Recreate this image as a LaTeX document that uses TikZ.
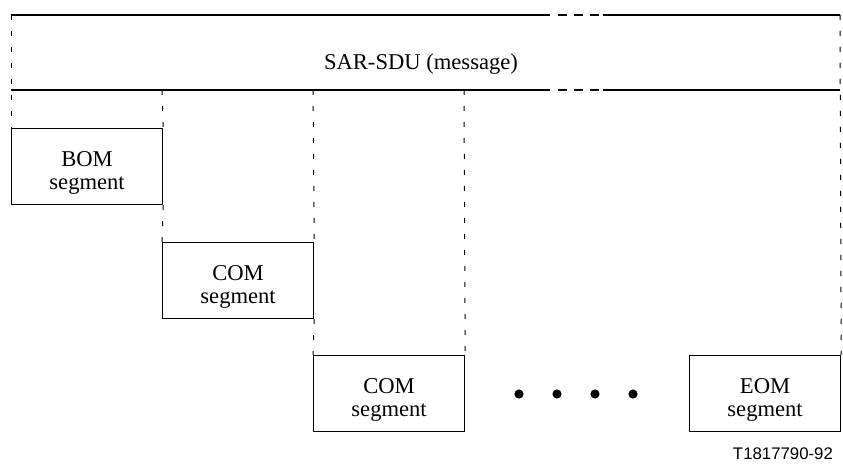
\documentclass[tikz,border=0pt]{standalone}
\usepackage{fontspec}
\setmainfont{Liberation Serif}
\newfontfamily\figfont{Liberation Sans}
\usepackage{tikz}
\usetikzlibrary{positioning}

\begin{document}
\begin{tikzpicture}[
        x=0.5pt, y=-0.5pt,
        font=\fontsize{11.3}{11.6}\selectfont,
        segbox/.style={draw, line width=0.6pt, rectangle, anchor=north west,
            minimum width=75.5pt, minimum height=38pt, inner sep=0pt},
        segtext/.style={align=center, inner sep=0pt},
        sduline/.style={line width=1pt},
        gapline/.style={line width=1pt, dash pattern=on 4.5pt off 3.5pt},
        guide/.style={line width=0.5pt, dash pattern=on 2.5pt off 5.5pt},
        bullet/.style={circle, fill, inner sep=0pt, minimum size=4.6pt}
      ]
      \useasboundingbox (0,0) rectangle (843,464);
      % message
      \coordinate (tl) at (11,15);
      \coordinate (tr) at (840,15);
      \coordinate (ml) at (11,90);
      \coordinate (mr) at (840,90);
      \node (sdu) at (421,64) {SAR-SDU (message)};
      \draw[sduline] (tl) -- (550,15) (603,15) -- (tr);
      \draw[sduline] (ml) -- (550,90) (603,90) -- (mr);
      \draw[gapline] (558,15) -- (603,15);
      \draw[gapline] (558,90) -- (603,90);
      % segments
      \node[segbox] (bom) at (11,128) {};
      \node[segbox] (com1) at (162,242) {};
      \node[segbox] (com2) at (313,355) {};
      \node[segbox] (eom) at (689,355) {};
      \node[segtext] (bomtext) at ([yshift=-3pt]bom.center) {BOM\\segment};
      \node[segtext] (com1text) at ([yshift=-3pt]com1.center) {COM\\segment};
      \node[segtext] (com2text) at ([yshift=-3pt]com2.center) {COM\\segment};
      \node[segtext] (eomtext) at ([yshift=-3pt]eom.center) {EOM\\segment};
      \node[bullet] (d1) at (519,394) {};
      \node[bullet] (d2) at (557,394) {};
      \node[bullet] (d3) at (595,394) {};
      \node[bullet] (d4) at (633,394) {};
      % guides
      \draw[guide] (tl) -- (bom.north west);
      \draw[guide] (162,90) -- (bom.north east);
      \draw[guide] (bom.south east) -- (com1.north west);
      \draw[guide] (313,90) -- (com1.north east);
      \draw[guide] (com1.south east) -- (com2.north west);
      \draw[guide] (464,90) -- (com2.north east);
      \draw[guide] (tr) -- (eom.north east);
      \node[font=\figfont\fontsize{8.4}{9}\selectfont, anchor=east] (tag) at (840,454) {T1817790-92};
    \end{tikzpicture}
\end{document}
